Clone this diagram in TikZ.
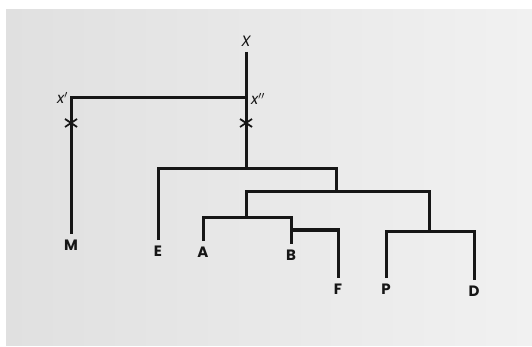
\documentclass[tikz,border=0pt]{standalone}
\usepackage{fontspec}
\setmainfont{Poppins}
\usepackage{tikz}
\usetikzlibrary{positioning}
\definecolor{pagedark}{RGB}{224,224,224}
\definecolor{pagelight}{RGB}{241,241,241}
\definecolor{ink}{RGB}{22,22,22}

\tikzset{
  branch/.style={draw=ink, line width=3pt, line join=miter},
  cross/.style={draw=ink, line width=1.8pt},
  leaf/.style={anchor=north, inner xsep=1pt, inner ysep=6pt, text=ink,
    font=\fontsize{15}{15}\selectfont\bfseries},
  anc/.style={inner sep=1pt, text=ink, font=\fontsize{15}{15}\selectfont\itshape}
}

\begin{document}
\begin{tikzpicture}[x=1pt, y=-1pt]
\useasboundingbox (0,0) rectangle (532,347);
\fill[white] (0,0) rectangle (532,347);
\shade[left color=pagedark, right color=pagelight] (6,10) rectangle (532,345);

% junctions
\coordinate (top) at (246,52);
\coordinate (xdd) at (246,98);
\coordinate (n1) at (246,169);
\coordinate (n2) at (336,192);
\coordinate (n3) at (246,218);
\coordinate (n4) at (291,230);
\coordinate (n5) at (429,231);
\coordinate (sl) at (71,123);
\coordinate (sr) at (246,123);

% labels
\node[anc] (X) at (246,41) {X};
\node[anc, anchor=east] (xd) at (69,98) {x$^{\prime}$};
\node[anc, anchor=west] (xdl) at (250,99) {x$^{\prime\prime}$};
\node[leaf] (M) at (71,234) {M};
\node[leaf] (E) at (158,240) {E};
\node[leaf] (A) at (203,241) {A};
\node[leaf] (B) at (291,244) {B};
\node[leaf] (F) at (338,278) {F};
\node[leaf] (P) at (386,278) {P};
\node[leaf] (D) at (474,280) {D};

% tree
\draw[branch] (top) -- (n1);
\draw[branch] (xdd) -| (M.north);
\draw[branch] (E.north) |- (n1) -| (n2);
\draw[branch] (n3) |- (n2) -| (n5);
\draw[branch] (A.north) |- (n3) -| (B.north);
\draw[branch] (n4 -| B.north) -| (F.north);
\draw[branch] (P.north) |- (n5) -| (D.north);

% marks
\foreach \s in {sl,sr}
  \draw[cross] (\s) +(-6,-4) -- +(6,4) +(-6,4) -- +(6,-4);
\end{tikzpicture}
\end{document}
